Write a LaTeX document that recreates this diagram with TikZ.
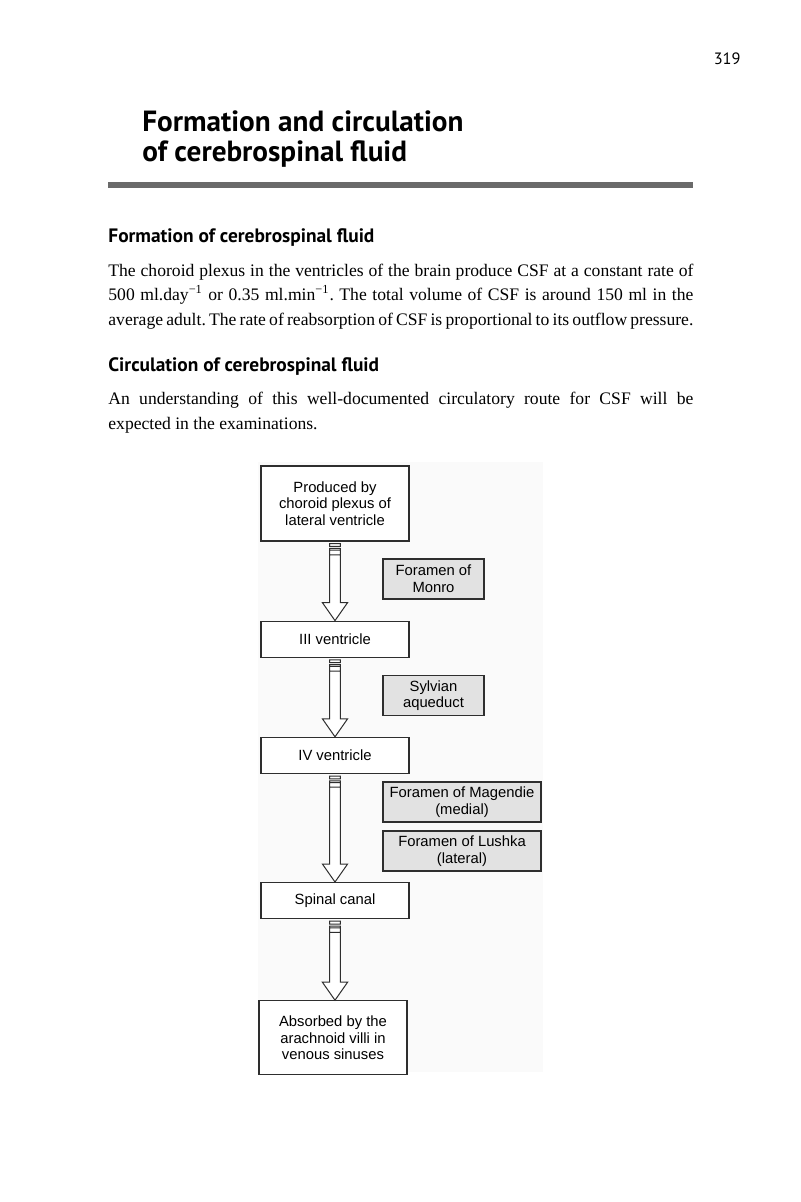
\documentclass[tikz,border=0pt]{standalone}
\usepackage{fontspec}
\setmainfont{Liberation Serif}
\newfontfamily\headfont{PT Sans}
\newfontfamily\chartfont{Liberation Sans}
\usepackage{xcolor}
\usepackage{tikz}
\usetikzlibrary{positioning}
\usetikzlibrary{calc}

\definecolor{rulegrey}{HTML}{6A6A6A}
\definecolor{chartbg}{HTML}{FAFAFA}
\definecolor{boxline}{HTML}{2E2E2E}
\definecolor{sidegrey}{HTML}{E2E2E2}

% narrow word spaces for the body text
\newcommand{\tightspaces}{\frenchspacing\spaceskip=0.17em plus 0.5em minus 0.03em\relax}

\tikzset{
  pagenum/.style={font=\headfont\fontsize{8.2}{9}\selectfont, inner sep=0pt},
  title/.style={font=\headfont\bfseries\fontsize{14.6}{15}\selectfont, align=left, inner sep=0pt},
  subhead/.style={font=\headfont\bfseries\fontsize{9.7}{10}\selectfont, inner sep=0pt},
  bodytext/.style={font=\fontsize{8.8}{12.15}\selectfont,
    text width=292.5pt, align=justify, inner sep=0pt},
  flowbox/.style={draw=boxline, line width=0.6pt, fill=white, minimum width=74pt,
    minimum height=18pt, inner sep=1pt, align=center,
    font=\chartfont\fontsize{7.4}{8.3}\selectfont},
  sidebox/.style={flowbox, fill=sidegrey, minimum width=50.5pt, minimum height=20pt},
  flowarrow/.style={draw=boxline, line width=0.5pt, fill=white, line join=miter}
}

% block arrow from one box down to the next
\newcommand{\flow}[2]{%
  \draw[flowarrow] let \p1=(#1.south), \p2=(#2.north) in
    (\x1-2.7pt,\y1-1pt) rectangle (\x1+2.7pt,\y1-2.4pt)
    (\x1-2.7pt,\y1-3.4pt) rectangle (\x1+2.7pt,\y1-6.6pt)
    (\x1-2.7pt,\y1-4.3pt) -- (\x1+2.7pt,\y1-4.3pt)
    (\x1-2.7pt,\y1-6.6pt) -- (\x1-2.7pt,\y2+9pt) -- (\x1-6.3pt,\y2+9pt)
      -- (\x1,\y2) -- (\x1+6.3pt,\y2+9pt) -- (\x1+2.7pt,\y2+9pt)
      -- (\x1+2.7pt,\y1-6.6pt);
}

\begin{document}
\begin{tikzpicture}[x=0.5pt,y=-0.5pt]
  \useasboundingbox (0,0) rectangle (801,1202);
  \fill[white] (0,0) rectangle (801,1202);

  % Page head
  \node[pagenum, anchor=base east] (page) at (741,65) {319};
  \node[title, anchor=base west] (title) at (142,161.7)
    {Formation and circulation\\of cerebrospinal fluid};
  \fill[rulegrey] (108,182) rectangle (693,188);

  % Text
  \node[subhead, anchor=base west] (sub1) at (108,243) {Formation of cerebrospinal fluid};
  \node[bodytext, anchor=base west] (para1) at (108,276.7)
    {\tightspaces The choroid plexus in the ventricles of the brain produce CSF at a constant rate of\linebreak
     500 ml.day\textsuperscript{−1} or 0.35 ml.min\textsuperscript{−1}. The total volume of CSF is around 150 ml in the\linebreak
     average adult. The rate of reabsorption of CSF is proportional to its outflow pressure.\parfillskip=0pt\par};
  \node[subhead, anchor=base west] (sub2) at (108,371.7) {Circulation of cerebrospinal fluid};
  \node[bodytext, anchor=base west] (para2) at (108,405)
    {An understanding of this well-documented circulatory route for CSF will be\linebreak
     expected in the examinations.};

  % Chart
  \fill[chartbg] (258,462) rectangle (543,1072);
  \node[flowbox, minimum height=37.5pt] (b1) at (335,503.5)
    {Produced by\\choroid plexus of\\lateral ventricle};
  \node[flowbox, below=39.5pt of b1] (b2) {III ventricle};
  \node[flowbox, below=39.5pt of b2] (b3) {IV ventricle};
  \node[flowbox, below=54pt of b3] (b4) {Spinal canal};
  \node[flowbox, minimum height=37pt, below=40.5pt of b4, xshift=-1pt] (b5)
    {Absorbed by the\\arachnoid villi in\\venous sinuses};

  \node[sidebox] (monro) at (433.5,579) {Foramen of\\Monro};
  \node[sidebox] (sylv) at (433.5,695.5) {Sylvian\\aqueduct};
  \node[sidebox, minimum width=79pt] (mag) at (462,802) {Foramen of Magendie\\(medial)};
  \node[sidebox, minimum width=79pt] (lush) at (462,851) {Foramen of Lushka\\(lateral)};

  \flow{b1}{b2}
  \flow{b2}{b3}
  \flow{b3}{b4}
  \flow{b4}{b5}
\end{tikzpicture}
\end{document}
